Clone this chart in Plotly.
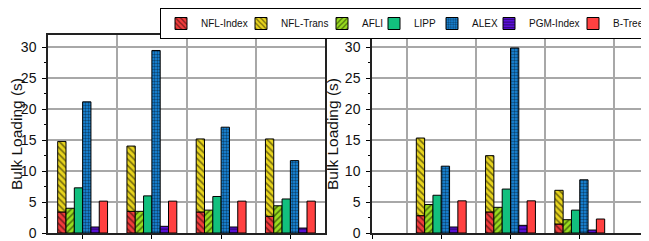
import plotly.graph_objects as go

# ---------------- data ----------------
series = ["NFL-Index", "NFL-Trans", "AFLI", "LIPP", "ALEX", "PGM-Index", "B-Tree"]

left_x = [1, 2, 3, 4]
right_x = [1, 2, 3]

# NFL-Trans values are the part stacked on top of NFL-Index
left_nfl_index = [3.4, 3.5, 3.4, 2.7]
left_nfl_trans = [11.4, 10.55, 11.8, 12.5]
left_afli = [4.0, 3.5, 3.7, 4.4]
left_lipp = [7.3, 6.0, 5.9, 5.5]
left_alex = [21.2, 29.5, 17.1, 11.7]
left_pgm = [0.97, 1.08, 0.97, 0.8]
left_btree = [5.15, 5.15, 5.15, 5.15]

right_nfl_index = [2.8, 3.4, 1.45]
right_nfl_trans = [12.55, 9.1, 5.45]
right_afli = [4.6, 4.15, 2.15]
right_lipp = [6.1, 7.1, 3.7]
right_alex = [10.8, 29.9, 8.6]
right_pgm = [0.97, 1.24, 0.48]
right_btree = [5.2, 5.2, 2.26]

y_ticks = [0, 5, 10, 15, 20, 25, 30]
y_title = "Bulk Loading (s)"

# ---------------- styles ----------------
styles = {
    "NFL-Index": dict(color="#f23c3c", shape="\\", size=4.5, sol=0.35, lw=35),
    "NFL-Trans": dict(color="#e8d41e", shape="\\", size=4.5, sol=0.35, lw=36),
    "AFLI": dict(color="#98dc1e", shape="/", size=4.5, sol=0.35, lw=7),
    "LIPP": dict(color="#12c07e", shape="", size=4, sol=0.3, lw=13),
    "ALEX": dict(color="#1a8ee6", shape=".", size=3, sol=0.5, lw=12),
    "PGM-Index": dict(color="#5a10d8", shape="-", size=3.5, sol=0.35, lw=39),
    "B-Tree": dict(color="#ff4141", shape="", size=4, sol=0.3, lw=34),
}
groups = {"NFL-Index": "g1", "NFL-Trans": "g1", "AFLI": "g2", "LIPP": "g3",
          "ALEX": "g4", "PGM-Index": "g5", "B-Tree": "g6"}

fig = go.Figure()


def add_panel(xs, vals, xa, ya, show):
    for name in series:
        st = styles[name]
        pattern = dict(shape=st["shape"], fgcolor="black", bgcolor=st["color"],
                       fillmode="overlay", size=st["size"], solidity=st["sol"])
        kw = {}
        if name == "NFL-Trans":
            kw["base"] = vals["NFL-Index"]
        fig.add_trace(go.Bar(
            x=xs, y=vals[name], name=name, offsetgroup=groups[name],
            marker=dict(color=st["color"], line=dict(color="black", width=1),
                        pattern=pattern),
            legendwidth=st["lw"],
            xaxis=xa, yaxis=ya, showlegend=show, legendgroup=name, **kw))


add_panel(left_x, {"NFL-Index": left_nfl_index, "NFL-Trans": left_nfl_trans,
                   "AFLI": left_afli, "LIPP": left_lipp, "ALEX": left_alex,
                   "PGM-Index": left_pgm, "B-Tree": left_btree}, "x", "y", True)
add_panel(right_x, {"NFL-Index": right_nfl_index, "NFL-Trans": right_nfl_trans,
                    "AFLI": right_afli, "LIPP": right_lipp, "ALEX": right_alex,
                    "PGM-Index": right_pgm, "B-Tree": right_btree}, "x2", "y2", False)

# the page body adds an 8px offset, so the figure is 8px smaller than the window
OFF = 8
W, H = 649 - OFF, 241 - OFF
ml, mr, mt, mb = 48 - OFF, 0, 35 - OFF, 8
pw = W - ml - mr


def px(v):
    return (v - OFF - ml) / pw


cat_px = (325 - 48) / 4.0
right_span = (W - (372 - OFF)) / cat_px

grid_c = "#a8a8a8"
FONT = "Liberation Sans, Arial"
xcommon = dict(showticklabels=False, ticks="outside", ticklen=4, tickcolor="black",
               tickwidth=1, dtick=1, tick0=1, tickmode="linear", showgrid=False,
               showline=True, linecolor="#222", linewidth=1.5, mirror=True, zeroline=False,
               minor=dict(dtick=1, tick0=0.5, showgrid=True, gridcolor=grid_c,
                          gridwidth=1.5, ticks=""))
ycommon = dict(range=[0, 32], tickvals=y_ticks, ticks="outside", ticklen=4,
               tickcolor="black", tickwidth=1, showgrid=True, gridcolor=grid_c,
               gridwidth=1.5, showline=True, linecolor="#222", linewidth=1.5,
               mirror=True, zeroline=False, ticklabelstandoff=3,
               tickfont=dict(family=FONT, size=14, color="#111"),
               title=dict(text=y_title, standoff=2,
                          font=dict(family=FONT, size=15.5, color="#111")),
               minor=dict(dtick=2.5, tick0=0, ticks="outside", ticklen=2,
                          tickcolor="black", showgrid=False))

fig.update_layout(
    width=W, height=H,
    margin=dict(l=ml, r=mr, t=mt, b=mb, autoexpand=False),
    paper_bgcolor="white", plot_bgcolor="white",
    barmode="group", bargap=0.28, bargroupgap=0,
    font=dict(family=FONT, color="#111"),
    xaxis=dict(domain=[0, px(325)], range=[0.5, 4.5], anchor="y", **xcommon),
    yaxis=dict(anchor="x", **ycommon),
    xaxis2=dict(domain=[px(372), 1], range=[0, right_span], anchor="y2", **xcommon),
    yaxis2=dict(anchor="x2", **ycommon),
    legend=dict(orientation="h", x=(160 - OFF) / W, xanchor="left", xref="container",
                y=1, yref="container", yanchor="top",
                bordercolor="black", borderwidth=1, bgcolor="white",
                font=dict(family=FONT, size=10, color="#111"),
                itemwidth=30, traceorder="normal"),
)

fig.write_html("out.html")
